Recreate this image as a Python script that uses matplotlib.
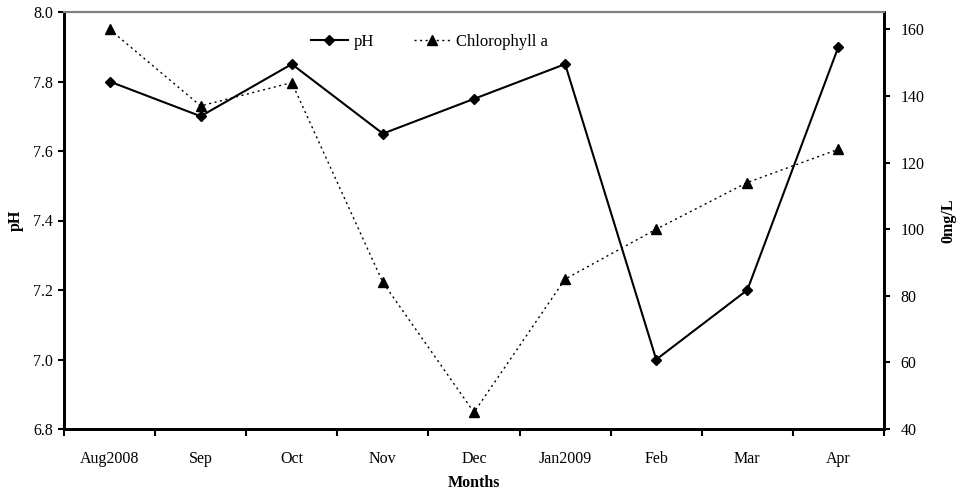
import matplotlib
matplotlib.use("Agg")
import matplotlib.pyplot as plt
import numpy as np

months = ["Aug2008", "Sep", "Oct", "Nov", "Dec", "Jan2009", "Feb", "Mar", "Apr"]
ph = [7.8, 7.7, 7.85, 7.65, 7.75, 7.85, 7.0, 7.2, 7.9]
chl = [160, 137, 144, 84, 45, 85, 100, 114, 124]
ph_ticks = [6.8, 7.0, 7.2, 7.4, 7.6, 7.8, 8.0]
chl_ticks = [40, 60, 80, 100, 120, 140, 160]

plt.rcParams['font.family'] = ['Liberation Serif', 'DejaVu Serif']

fig = plt.figure(figsize=(9.61, 4.95), dpi=100)
ax = fig.add_axes([64/961, 1-429/495, (884-64)/961, (429-12)/495])
ax2 = ax.twinx()

x = np.arange(len(months))
l1, = ax.plot(x, ph, color='black', lw=1.5, marker='D', ms=5, label='pH', zorder=3)
l2, = ax2.plot(x, chl, color='black', lw=1.0, ls=(0, (1.5, 2.5)), marker='^', ms=6.5, label='Chlorophyll a')

ax.set_xlim(-0.5, len(months)-0.5)
ax.set_ylim(6.8, 8.0)
ax2.set_ylim(40, 165.2)
ax.set_yticks(ph_ticks)
ax.set_yticklabels([f"{v:.1f}" for v in ph_ticks])
ax2.set_yticks(chl_ticks)

fs = 11.5
ax.set_xticks(np.arange(len(months)+1) - 0.5)
ax.set_xticklabels([])
ax.set_xticks(x, minor=True)
ax.set_xticklabels(months, minor=True)
ax.tick_params(axis='x', which='minor', length=0, pad=16, labelsize=fs)
ax.tick_params(axis='x', which='major', length=5, width=1.5, direction='out')
ax.tick_params(axis='y', length=4, width=1.5, direction='out', labelsize=fs, pad=4)
ax2.tick_params(axis='y', length=4, width=1.5, direction='out', labelsize=fs, pad=8)

for a in (ax, ax2):
    a.spines['left'].set_linewidth(2)
    a.spines['right'].set_linewidth(2)
    a.spines['bottom'].set_linewidth(2)
    a.spines['top'].set_color('#808080')
    a.spines['top'].set_linewidth(1.5)

ax.set_xlabel("Months", fontweight='bold', fontsize=fs)
ax.set_ylabel("pH", fontweight='bold', fontsize=fs)
ax2.set_ylabel("0mg/L", fontweight='bold', fontsize=fs)
ax.xaxis.set_label_coords(0.5, -0.110)
ax.yaxis.set_label_coords(-0.049, 0.5)
ax2.yaxis.set_label_coords(1.069, 0.5)

ax.legend([l1, l2], ['pH', 'Chlorophyll a'], loc='center', bbox_to_anchor=(0.446, 0.928),
          ncol=2, frameon=False, fontsize=12, handlelength=2.2, handletextpad=0.35,
          columnspacing=2.4)

fig.savefig("out.png", dpi=100)
